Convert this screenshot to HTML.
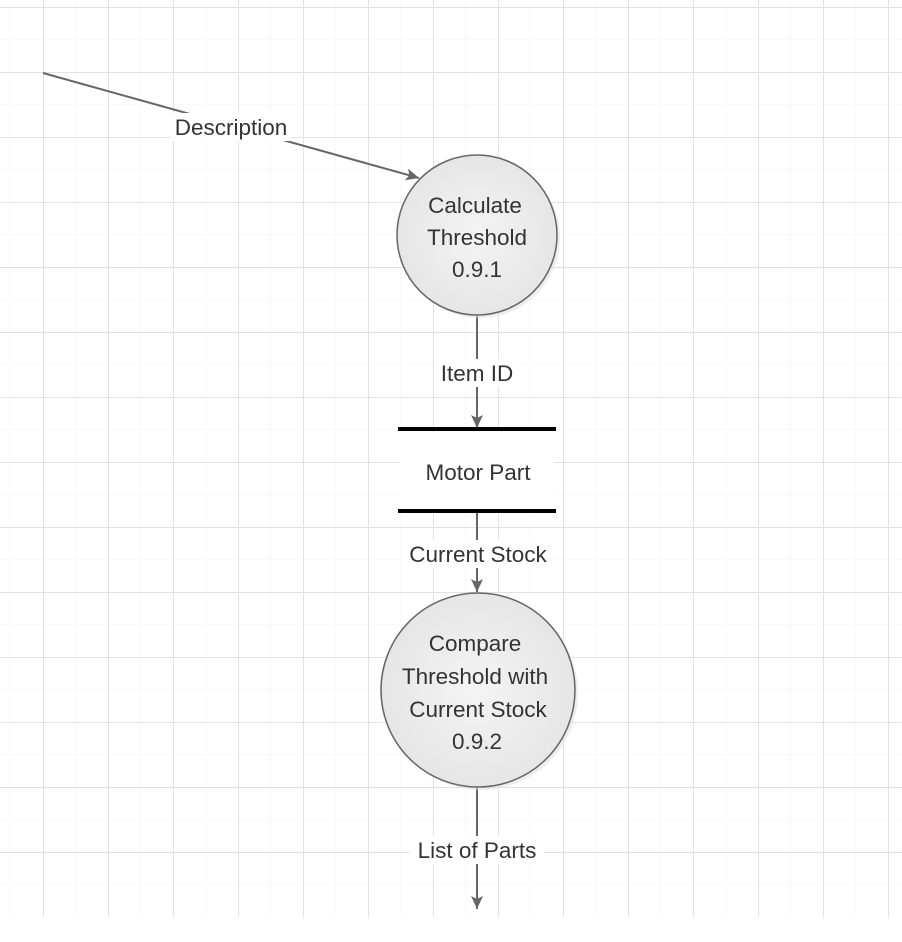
<!DOCTYPE html>
<html><head><style>
body{margin:0;background:#fff;}
svg{display:block}
text{font-family:"Liberation Sans",Arial,sans-serif;font-size:22.5px;fill:#333;text-anchor:middle}
</style></head><body>
<svg width="902" height="942" xmlns="http://www.w3.org/2000/svg">
<defs>
<pattern id="g" x="10.5" y="7" width="32.5" height="32.5" patternUnits="userSpaceOnUse">
<path d="M0 0H32.5M0 0V32.5" stroke="#f3f3f3" stroke-width="1" fill="none"/>
</pattern>
<pattern id="G" x="43" y="7" width="65" height="65" patternUnits="userSpaceOnUse">
<path d="M0 0.5H65M0.5 0V65" stroke="#e2e2e2" stroke-width="1" fill="none"/>
</pattern>
<radialGradient id="cg" cx="0.5" cy="0.5" r="0.5"><stop offset="0" stop-color="#f4f4f4"/><stop offset="1" stop-color="#e6e6e6"/></radialGradient>
<marker id="a" markerWidth="14" markerHeight="12" refX="13" refY="6" orient="auto" markerUnits="userSpaceOnUse">
<path d="M0 0L13 6L0 12L3 6Z" fill="#666"/>
</marker>
</defs>
<rect x="0" y="0" width="902" height="917" fill="url(#g)"/>
<rect x="0" y="0" width="902" height="917" fill="url(#G)"/>
<g stroke="#666" stroke-width="2" fill="none">
<line x1="43" y1="73" x2="419" y2="178" marker-end="url(#a)"/>
<line x1="477" y1="315" x2="477" y2="428" marker-end="url(#a)"/>
<line x1="477" y1="512" x2="477" y2="592" marker-end="url(#a)"/>
<line x1="477" y1="787" x2="477" y2="909" marker-end="url(#a)"/>
</g>
<circle cx="480" cy="238" r="80" fill="#ddd" opacity="0.5"/>
<circle cx="477" cy="235" r="80" fill="url(#cg)" stroke="#666" stroke-width="1.5"/>
<circle cx="481" cy="693" r="97" fill="#ddd" opacity="0.5"/>
<circle cx="478" cy="690" r="97" fill="url(#cg)" stroke="#666" stroke-width="1.5"/>
<line x1="398" y1="429" x2="556" y2="429" stroke="#000" stroke-width="4"/>
<line x1="398" y1="511" x2="556" y2="511" stroke="#000" stroke-width="4"/>
<rect x="400" y="432" width="154" height="77" fill="#fff"/>
<rect x="170" y="113" width="122" height="28" fill="#fff"/>
<text x="231" y="135">Description</text>
<text x="475" y="213">Calculate</text>
<text x="477" y="245">Threshold</text>
<text x="477" y="277">0.9.1</text>
<rect x="434" y="359" width="86" height="28" fill="#fff"/>
<text x="477" y="381">Item ID</text>
<text x="478" y="480">Motor Part</text>
<rect x="402" y="540" width="152" height="28" fill="#fff"/>
<text x="478" y="562">Current Stock</text>
<text x="475" y="651">Compare</text>
<text x="475" y="684">Threshold with</text>
<text x="478" y="717">Current Stock</text>
<text x="477" y="749">0.9.2</text>
<rect x="410" y="836" width="134" height="28" fill="#fff"/>
<text x="477" y="858">List of Parts</text>
</svg>
</body></html>
